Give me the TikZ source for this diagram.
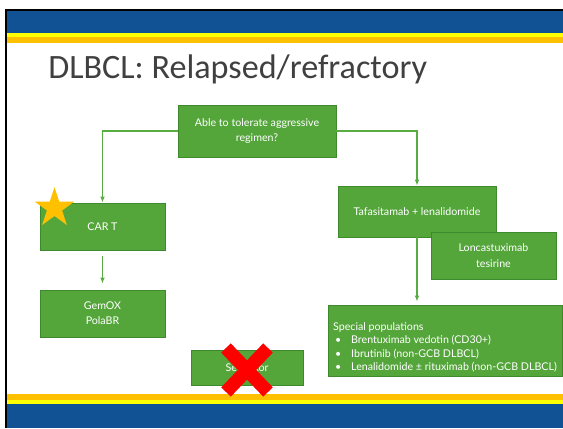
\documentclass[tikz,border=0pt]{standalone}
\usepackage{fontspec}
\setmainfont{Lato}
\newfontfamily\titlefont{Carlito}
\usetikzlibrary{shapes,arrows.meta,positioning,calc}
\definecolor{slideblue}{RGB}{16,82,148}
\definecolor{bandyellow}{RGB}{255,255,0}
\definecolor{bandorange}{RGB}{255,192,0}
\definecolor{boxgreen}{RGB}{84,166,59}
\definecolor{boxedge}{RGB}{62,136,46}
\definecolor{linegreen}{RGB}{88,172,66}
\definecolor{titlegray}{RGB}{64,64,64}

\begin{document}
\begin{tikzpicture}[x=0.75pt,y=-0.75pt,
    greenbox/.style={draw=boxedge,fill=boxgreen,text=white,line width=0.6pt,inner sep=2pt,
        align=center,font=\fontsize{8}{11.5}\selectfont},
    flow/.style={draw=linegreen,line width=0.9pt,-{Latex[length=4.5pt,width=3.5pt]}},
    redcross/.style={draw=red,line width=10pt}]
    \useasboundingbox (0,0) rectangle (563,428);

    % Slide frame and bands
    \fill[white] (0,0) rectangle (563,428);
    \fill[black] (5,9) rectangle (563,11);
    \fill[black] (5,9) rectangle (7,428);
    \fill[slideblue] (7,11) rectangle (563,33);
    \fill[bandyellow] (7,33) rectangle (563,37);
    \fill[bandorange] (7,37) rectangle (563,43);
    \fill[bandorange] (7,394) rectangle (563,400);
    \fill[bandyellow] (7,400) rectangle (563,404);
    \fill[slideblue] (7,404) rectangle (563,428);

    % Title
    \node[anchor=base west,inner sep=0pt,text=titlegray,font=\titlefont\fontsize{25.6}{30}\selectfont]
        (title) at (48,79) {DLBCL: Relapsed/refractory};

    % Decision
    \node[greenbox,minimum width=118.5pt,minimum height=39pt] (able) at (257,131)
        {Able to tolerate aggressive\\regimen?};

    % Left branch
    \node[greenbox,minimum width=93.75pt,minimum height=35.25pt] (cart) at (102.5,226.5) {CAR T};
    \node[greenbox,minimum width=93.75pt,minimum height=35.25pt] (gemox) at (102.5,313.5) {GemOX\\PolaBR};
    \node[star,star points=5,star point ratio=2.618,fill=bandorange,inner sep=0pt,minimum size=31.5pt]
        (cartstar) at (54.5,208) {};

    % Right branch
    \node[greenbox,minimum width=118.5pt,minimum height=38.25pt] (tafa) at (417,211.5)
        {Tafasitamab + lenalidomide};
    \node[greenbox,minimum width=93.75pt,minimum height=35.25pt] (lonc) at (493.5,255.5)
        {Loncastuximab\\tesirine};
    \node[greenbox,align=left,minimum width=175.5pt,minimum height=53.25pt,
        font=\fontsize{8}{10}\selectfont] (special) at (445,340.5)
        {\rule{0pt}{16pt}Special populations\\
         \makebox[13.5pt][l]{\hspace{1.5pt}\textbullet}Brentuximab vedotin (CD30+)\\
         \makebox[13.5pt][l]{\hspace{1.5pt}\textbullet}Ibrutinib (non-GCB DLBCL)\\
         \makebox[13.5pt][l]{\hspace{1.5pt}\textbullet}Lenalidomide ± rituximab (non-GCB DLBCL)};

    % Crossed out
    \node[greenbox,minimum width=84pt,minimum height=26.25pt] (selx) at (247,367.5) {Selinexor};
    \draw[redcross] (226,348) -- (268,392);
    \draw[redcross] (268,348) -- (226,392);

    % Connectors
    \draw[flow] (able.west) -| (cart.north);
    \draw[flow] (able.east) -| (tafa.north);
    \draw[flow,shorten <=4.5pt,shorten >=4.5pt] (cart.south) -- (gemox.north);
    \draw[flow,shorten >=2.25pt] (tafa.south) -- (tafa.south |- special.north);
\end{tikzpicture}
\end{document}
